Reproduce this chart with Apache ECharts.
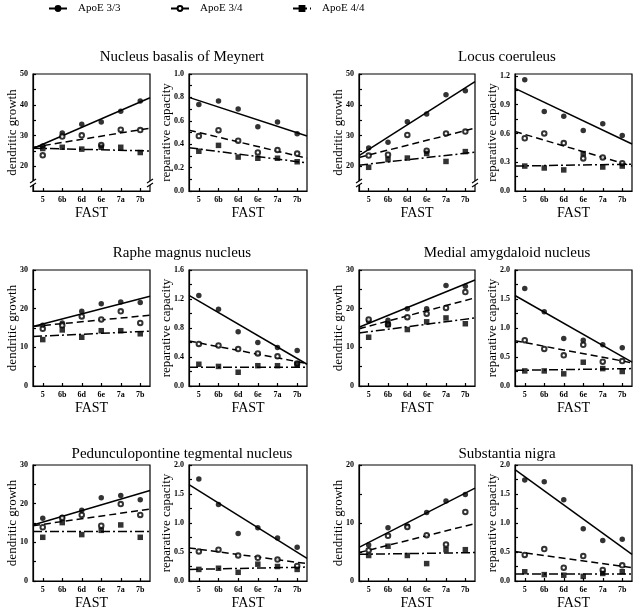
<!DOCTYPE html>
<html>
<head>
<meta charset="utf-8">
<script src="https://cdn.jsdelivr.net/npm/echarts@6.0.0/dist/echarts.min.js"></script>
<style>
  html, body { margin: 0; padding: 0; background: #fff; }
  #main { width: 640px; height: 611px; }
</style>
</head>
<body>
<div id="main"></div>
<script>
var cats = ['5', '6b', '6d', '6e', '7a', '7b'];
var genotypes = ['ApoE 3/3', 'ApoE 3/4', 'ApoE 4/4'];

// each block: [ApoE 3/3, ApoE 3/4, ApoE 4/4] values per FAST stage
// fits: regression line value at left and right edge of the plot
var nbmGrowth = [
  [26.6, 30.8, 33.7, 34.4, 37.9, 41.2],
  [23.6, 29.7, 30.1, 26.9, 31.9, 31.8],
  [25.8, 26.2, 25.6, 26.2, 26.2, 24.5]
];
var nbmGrowthFit = [[25.8, 42.3], [26.2, 32.4], [25.9, 25.0]];
var nbmRep = [
  [0.74, 0.77, 0.70, 0.55, 0.59, 0.49],
  [0.47, 0.52, 0.43, 0.33, 0.35, 0.32],
  [0.34, 0.39, 0.29, 0.28, 0.28, 0.25]
];
var nbmRepFit = [[0.80, 0.47], [0.52, 0.28], [0.37, 0.24]];

var lcGrowth = [
  [26.0, 27.8, 34.5, 37.0, 43.3, 44.6],
  [23.5, 23.8, 30.2, 25.1, 30.7, 31.3],
  [19.7, 22.2, 22.7, 24.2, 21.6, 24.8]
];
var lcGrowthFit = [[23.5, 47.5], [22.9, 32.4], [20.4, 24.6]];
var lcRep = [
  [1.16, 0.83, 0.78, 0.63, 0.70, 0.58],
  [0.55, 0.60, 0.50, 0.34, 0.35, 0.29],
  [0.26, 0.24, 0.22, 0.39, 0.25, 0.26]
];
var lcRepFit = [[1.07, 0.49], [0.62, 0.26], [0.26, 0.28]];

var rmGrowth = [
  [15.7, 16.3, 19.3, 21.3, 21.7, 21.6],
  [14.8, 15.7, 18.0, 17.2, 19.3, 16.3],
  [12.0, 14.5, 12.6, 14.3, 14.3, 13.5]
];
var rmGrowthFit = [[15.4, 23.2], [15.4, 18.3], [12.8, 14.2]];
var rmRep = [
  [1.25, 1.06, 0.75, 0.60, 0.53, 0.49],
  [0.58, 0.56, 0.51, 0.45, 0.41, 0.31],
  [0.30, 0.27, 0.19, 0.28, 0.28, 0.30]
];
var rmRepFit = [[1.25, 0.30], [0.62, 0.31], [0.26, 0.26]];

var maGrowth = [
  [16.8, 17.0, 20.0, 20.0, 26.0, 25.8],
  [17.2, 15.9, 17.8, 18.7, 20.2, 24.3],
  [12.6, 15.9, 14.6, 16.6, 17.6, 16.1]
];
var maGrowthFit = [[15.2, 27.4], [14.8, 22.8], [13.7, 17.6]];
var maRep = [
  [1.68, 1.28, 0.82, 0.79, 0.71, 0.66],
  [0.79, 0.64, 0.53, 0.71, 0.42, 0.43],
  [0.26, 0.26, 0.21, 0.41, 0.30, 0.25]
];
var maRepFit = [[1.56, 0.41], [0.78, 0.40], [0.27, 0.30]];

var pptGrowth = [
  [16.2, 16.5, 18.3, 21.5, 22.1, 21.0],
  [13.9, 16.3, 17.1, 14.3, 19.9, 17.1],
  [11.3, 15.1, 12.0, 13.1, 14.5, 11.3]
];
var pptGrowthFit = [[14.5, 23.4], [14.3, 18.6], [12.8, 12.8]];
var pptRep = [
  [1.76, 1.32, 0.82, 0.92, 0.74, 0.58],
  [0.51, 0.54, 0.44, 0.40, 0.37, 0.26],
  [0.20, 0.22, 0.15, 0.29, 0.25, 0.20]
];
var pptRepFit = [[1.66, 0.39], [0.57, 0.30], [0.20, 0.24]];

var snGrowth = [
  [6.2, 9.2, 9.5, 11.8, 13.8, 14.9],
  [5.3, 7.8, 9.3, 7.9, 6.3, 11.9],
  [4.4, 6.0, 4.4, 3.0, 5.4, 5.4]
];
var snGrowthFit = [[5.8, 16.0], [4.9, 9.9], [4.6, 4.9]];
var snRep = [
  [1.74, 1.71, 1.40, 0.90, 0.70, 0.72],
  [0.45, 0.55, 0.23, 0.43, 0.19, 0.27],
  [0.16, 0.11, 0.10, 0.08, 0.13, 0.16]
];
var snRepFit = [[1.92, 0.46], [0.51, 0.23], [0.12, 0.12]];

var growthTicks50 = [20, 30, 40, 50];
var growthTicks30 = [0, 10, 20, 30];
var growthTicks20 = [0, 10, 20];
var repTicks10 = [0, 0.2, 0.4, 0.6, 0.8, 1.0];
var repTicks12 = [0, 0.3, 0.6, 0.9, 1.2];
var repTicks16 = [0, 0.4, 0.8, 1.2, 1.6];
var repTicks20 = [0, 0.5, 1.0, 1.5, 2.0];

var titles = [
  'Nucleus basalis of Meynert', 'Locus coeruleus',
  'Raphe magnus nucleus', 'Medial amygdaloid nucleus',
  'Pedunculopontine tegmental nucleus', 'Substantia nigra'
];

var FONT = 'Liberation Serif, Times New Roman, serif';
var rowTop = [74, 270, 465];
var rowH = [117, 116, 117];
var colLeft = [33, 189, 359, 515];
var colW = [117, 118, 116, 117];
var titleX = [177, 502];
var titleY = [45, 241, 442];

var plots = [
  { row: 0, col: 0, data: nbmGrowth, fit: nbmGrowthFit, min: 12, max: 50, labels: growthTicks50, name: 'dendritic growth', dec: 0, broken: true },
  { row: 0, col: 1, data: nbmRep, fit: nbmRepFit, min: 0, max: 1.0, labels: repTicks10, name: 'reparative capacity', dec: 1 },
  { row: 0, col: 2, data: lcGrowth, fit: lcGrowthFit, min: 12, max: 50, labels: growthTicks50, name: 'dendritic growth', dec: 0, broken: true },
  { row: 0, col: 3, data: lcRep, fit: lcRepFit, min: 0, max: 1.22, labels: repTicks12, name: 'reparative capacity', dec: 1 },
  { row: 1, col: 0, data: rmGrowth, fit: rmGrowthFit, min: 0, max: 30, labels: growthTicks30, name: 'dendritic growth', dec: 0 },
  { row: 1, col: 1, data: rmRep, fit: rmRepFit, min: 0, max: 1.6, labels: repTicks16, name: 'reparative capacity', dec: 1 },
  { row: 1, col: 2, data: maGrowth, fit: maGrowthFit, min: 0, max: 30, labels: growthTicks30, name: 'dendritic growth', dec: 0 },
  { row: 1, col: 3, data: maRep, fit: maRepFit, min: 0, max: 2.0, labels: repTicks20, name: 'reparative capacity', dec: 1 },
  { row: 2, col: 0, data: pptGrowth, fit: pptGrowthFit, min: 0, max: 30, labels: growthTicks30, name: 'dendritic growth', dec: 0 },
  { row: 2, col: 1, data: pptRep, fit: pptRepFit, min: 0, max: 2.0, labels: repTicks20, name: 'reparative capacity', dec: 1 },
  { row: 2, col: 2, data: snGrowth, fit: snGrowthFit, min: 0, max: 20, labels: growthTicks20, name: 'dendritic growth', dec: 0 },
  { row: 2, col: 3, data: snRep, fit: snRepFit, min: 0, max: 2.0, labels: repTicks20, name: 'reparative capacity', dec: 1 }
];

var symbols = ['circle', 'emptyCircle', 'rect'];
var symbolSizes = [5.5, 4.5, 5.5];
var dashes = ['solid', [7, 4], [9, 3, 2, 3]];

// minor ticks halfway between labels
function withHalves(arr, min, max) {
  var out = arr.slice();
  var step = arr[1] - arr[0];
  for (var v = arr[0] - step / 2; v <= max + 1e-9; v += step) {
    if (v >= min - 1e-9) out.push(+v.toFixed(3));
  }
  return out;
}

var blackLine = { color: '#000', width: 1.2 };
var option = {
  animation: false,
  backgroundColor: '#fff',
  title: [],
  legend: [],
  grid: [],
  xAxis: [],
  yAxis: [],
  series: [],
  graphic: []
};

titles.forEach(function (t, i) {
  option.title.push({
    text: t,
    left: titleX[i % 2],
    top: titleY[Math.floor(i / 2)],
    textAlign: 'center',
    textStyle: { fontFamily: FONT, fontSize: 15, fontWeight: 'normal', color: '#000' }
  });
});

var legendLeft = [43, 165, 287];
genotypes.forEach(function (g, k) {
  option.legend.push({
    data: [g],
    left: legendLeft[k],
    top: -2,
    itemWidth: 18,
    itemHeight: 6,
    selectedMode: false,
    textStyle: { fontFamily: FONT, fontSize: 11, color: '#000', padding: [0, 0, 0, 6] }
  });
  option.series.push({
    type: 'line',
    name: g,
    data: [],
    symbol: symbols[k],
    symbolSize: 5,
    itemStyle: { color: '#000', borderColor: '#000', borderWidth: 1 },
    lineStyle: { color: '#000', width: 1.4, type: dashes[k] }
  });
});

plots.forEach(function (p, i) {
  var left = colLeft[p.col], top = rowTop[p.row], w = colW[p.col], h = rowH[p.row];
  option.grid.push({
    left: left, top: top, width: w, height: h,
    show: true, borderColor: '#000', borderWidth: 1.2, backgroundColor: 'transparent'
  });
  option.xAxis.push({
    type: 'value', gridIndex: i, min: -0.5, max: 5.5,
    name: 'FAST', nameLocation: 'middle', nameGap: 15,
    nameTextStyle: { fontFamily: FONT, fontSize: 14, color: '#000' },
    axisLine: { onZero: false, lineStyle: blackLine },
    axisTick: { inside: true, length: 3, customValues: [0, 1, 2, 3, 4, 5], lineStyle: blackLine },
    axisLabel: {
      customValues: [0, 1, 2, 3, 4, 5],
      formatter: function (v) { return cats[Math.round(v)]; },
      fontFamily: FONT, fontSize: 8, fontWeight: 'bold', color: '#000', margin: 5
    },
    splitLine: { show: false }
  });
  option.yAxis.push({
    type: 'value', gridIndex: i, min: p.min, max: p.max,
    name: p.name, nameLocation: 'middle', nameGap: p.dec ? 16 : 14,
    nameMoveOverlap: false,
    nameTextStyle: { fontFamily: FONT, fontSize: 13, color: '#000' },
    axisLine: { onZero: false, lineStyle: blackLine },
    axisTick: { inside: true, length: 3, customValues: withHalves(p.labels, p.min, p.max), lineStyle: blackLine },
    axisLabel: {
      customValues: p.labels,
      formatter: function (v) { return p.dec ? v.toFixed(1) : String(Math.round(v)); },
      fontFamily: FONT, fontSize: 8, fontWeight: 'bold', color: '#000', margin: 5
    },
    splitLine: { show: false }
  });
  for (var k = 0; k < 3; k++) {
    option.series.push({
      type: 'line', xAxisIndex: i, yAxisIndex: i, silent: true, z: 2,
      data: [[-0.5, p.fit[k][0]], [5.5, p.fit[k][1]]],
      symbol: 'none',
      lineStyle: { color: '#000', width: 1.5, type: dashes[k] }
    });
    option.series.push({
      type: 'scatter', xAxisIndex: i, yAxisIndex: i, silent: true, z: 3,
      data: p.data[k].map(function (v, j) { return [j, v]; }),
      symbol: symbols[k],
      symbolSize: symbolSizes[k],
      itemStyle: { color: '#000', borderColor: '#000', borderWidth: k === 1 ? 1 : 0 }
    });
  }
  if (p.broken) {
    [left, left + w].forEach(function (x) {
      var y = top + h - 8;
      option.graphic.push({ type: 'rect', shape: { x: x - 3, y: y - 2, width: 6, height: 4 }, style: { fill: '#fff' }, z: 100 });
      option.graphic.push({ type: 'line', shape: { x1: x - 3, y1: y, x2: x + 3, y2: y - 4 }, style: { stroke: '#000', lineWidth: 1.1 }, z: 101 });
      option.graphic.push({ type: 'line', shape: { x1: x - 3, y1: y + 4, x2: x + 3, y2: y }, style: { stroke: '#000', lineWidth: 1.1 }, z: 101 });
    });
  }
});

var chart = echarts.init(document.getElementById('main'), null, { renderer: 'canvas' });
chart.setOption(option);
</script>
</body>
</html>
